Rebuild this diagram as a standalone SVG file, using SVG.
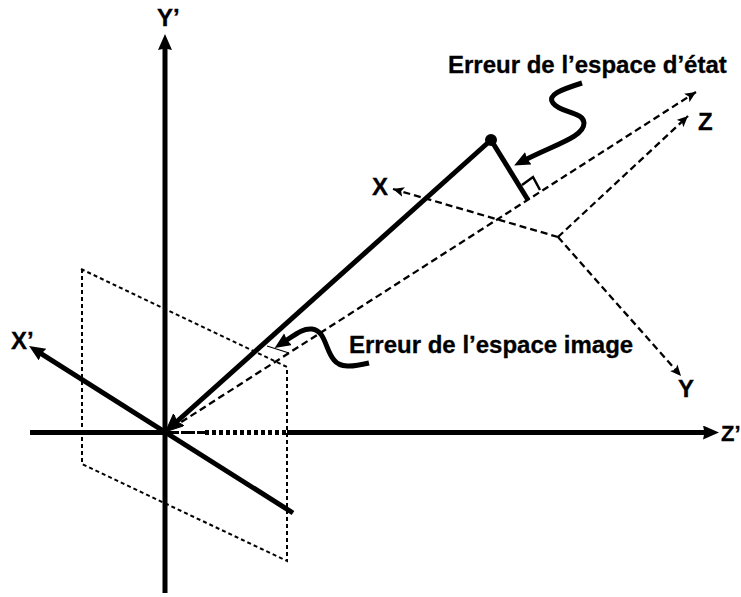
<svg xmlns="http://www.w3.org/2000/svg" width="741" height="597" viewBox="0 0 741 597">
<defs>
<marker id="big" markerUnits="userSpaceOnUse" markerWidth="18" markerHeight="16" refX="6" refY="7" orient="auto"><path d="M0 0L16 7L0 14L1.500 7Z" fill="#000"/></marker>
<marker id="origin" markerUnits="userSpaceOnUse" markerWidth="20" markerHeight="18" refX="8" refY="8" orient="auto"><path d="M0 0L18 8L0 16L3 8Z" fill="#000" stroke="#000" stroke-width="1" stroke-linejoin="round"/></marker>
<marker id="small" markerUnits="userSpaceOnUse" markerWidth="14" markerHeight="12" refX="11" refY="5" orient="auto"><path d="M0 0L11 5L0 10L2.500 5Z" fill="#000"/></marker>
</defs>
<style>
.thick{fill:none;stroke:#000;stroke-width:5}
.dash{fill:none;stroke:#000;stroke-width:2.300;stroke-dasharray:7 4}
.thin{fill:none;stroke:#000;stroke-width:2;stroke-dasharray:4 3}
text{font-family:"Liberation Sans",Arial,sans-serif;font-weight:bold;font-size:24px;fill:#000;stroke:#000;stroke-width:.3}
</style>
<g id="connectors">
<path class="thin" d="M81 269L287 367V561L82 464V269"/>
<path class="thick" d="M165 593V44" marker-end="url(#big)"/>
<path class="thick" d="M30 432.500H165"/>
<path class="thick" d="M287 432.500H709" marker-end="url(#big)"/>
<path d="M165 432.500H205" fill="none" stroke="#000" stroke-width="3" stroke-dasharray="14 2"/>
<path d="M205 432.500H287" fill="none" stroke="#000" stroke-width="5" stroke-dasharray="4 3"/>
<path class="thick" d="M293 513L37.500 351.400" marker-end="url(#big)"/>
<path class="thick" d="M491 140L173 425" marker-end="url(#origin)"/>
<path class="thick" d="M491 140L528 200"/>
<path d="M522 185L533 177L540 190" fill="none" stroke="#000" stroke-width="2.500"/>
<path class="dash" d="M172 428L696 92" marker-end="url(#small)"/>
<path class="dash" d="M558 237L688 116" marker-end="url(#small)"/>
<path class="dash" d="M558 237L393 189" marker-end="url(#small)"/>
<path class="dash" d="M558 237L681 376" marker-end="url(#small)"/>
<path d="M267 346L289 353" fill="none" stroke="#000" stroke-width="1.200"/>
<path class="thick" d="M582 83C560 90 547 95 553 103C560 113 584 112 584 123C584 137 556 144 523 161" marker-end="url(#big)"/>
<path class="thick" d="M369 363C352 367 340 368 334 360C325 350 326 331 312 329C303 328 296 334 283 342.500" marker-end="url(#big)"/>
</g>
<g id="point"><circle cx="491" cy="140" r="6" fill="#000"/></g>
<g id="label-y"><text x="157" y="26">Y’</text></g>
<g id="label-xp"><text x="11" y="349">X’</text></g>
<g id="label-zp"><text x="721" y="441" style="font-size:22px">Z’</text></g>
<g id="label-x"><text x="372" y="195">X</text></g>
<g id="label-z"><text x="698" y="130">Z</text></g>
<g id="label-yy"><text x="678" y="397">Y</text></g>
<g id="label-etat"><text x="448" y="73">Erreur de l’espace d’état</text></g>
<g id="label-image"><text x="349" y="353">Erreur de l’espace image</text></g>
</svg>
